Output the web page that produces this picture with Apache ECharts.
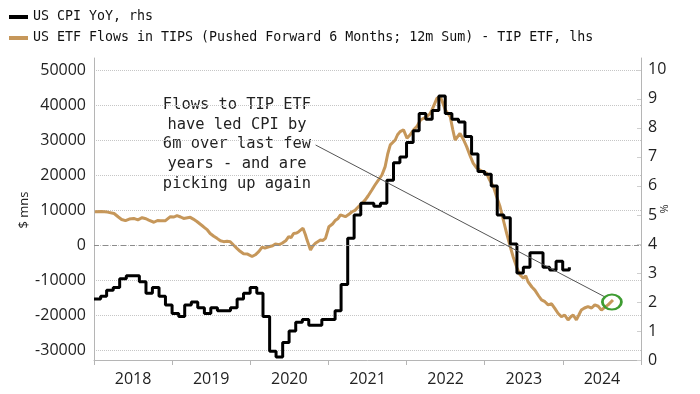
<!DOCTYPE html>
<html><head><meta charset="utf-8">
<script src="https://cdn.jsdelivr.net/npm/echarts@6/dist/echarts.min.js"></script>
<style>html,body{margin:0;padding:0;background:#fff}#c{width:700px;height:394px}</style>
</head><body><div id="c"></div>
<script>
// ---- data ----
const years = ['2018','2019','2020','2021','2022','2023','2024'];
const leftTicks = [-30000,-20000,-10000,0,10000,20000,30000,40000,50000];
const rightTicks = [0,1,2,3,4,5,6,7,8,9,10];

const cpiName = 'US CPI YoY, rhs';
const goldName = 'US ETF Flows in TIPS (Pushed Forward 6 Months; 12m Sum) - TIP ETF, lhs';

// monthly US CPI YoY (%), Jan 2018 .. Feb 2024
const cpiStartYear = 2018;
const cpiValues = [
  2.1,2.2,2.4,2.5,2.8,2.9,2.9,2.7,2.3,2.5,2.2,1.9,
  1.6,1.5,1.9,2.0,1.8,1.6,1.8,1.7,1.7,1.8,2.1,2.3,
  2.5,2.3,1.5,0.3,0.1,0.6,1.0,1.3,1.4,1.2,1.2,1.4,
  1.4,1.7,2.6,4.2,5.0,5.4,5.4,5.3,5.4,6.2,6.8,7.0,
  7.5,7.9,8.5,8.3,8.6,9.1,8.5,8.3,8.2,7.7,7.1,6.5,
  6.4,6.0,5.0,4.9,4.0,3.0,3.2,3.7,3.7,3.2,3.1,3.4,
  3.1,3.2
];

// TIP ETF flows, $ mns (12m sum, pushed forward 6 months)
const goldDates = [
 '2018-01-05','2018-02-05','2018-03-05','2018-04-05','2018-04-25','2018-05-10','2018-05-28','2018-06-15','2018-07-06','2018-07-25',
 '2018-08-14','2018-09-01','2018-09-14','2018-10-08','2018-10-25','2018-11-07','2018-12-01','2018-12-24','2019-01-10','2019-01-24',
 '2019-02-10','2019-02-24','2019-03-27','2019-04-10','2019-04-27','2019-05-28','2019-06-15','2019-06-28','2019-07-15','2019-07-30',
 '2019-08-15','2019-08-30','2019-09-15','2019-09-30','2019-10-15','2019-10-31','2019-11-15','2019-12-01','2019-12-20','2020-01-10',
 '2020-01-25','2020-02-10','2020-02-26','2020-03-10','2020-03-28','2020-04-15','2020-04-28','2020-05-15','2020-05-29','2020-06-15',
 '2020-06-29','2020-07-10','2020-07-22','2020-08-05','2020-08-15','2020-09-04','2020-09-15','2020-09-23','2020-10-09','2020-10-20',
 '2020-11-01','2020-11-24','2020-12-05','2020-12-18','2021-01-03','2021-01-20','2021-02-03','2021-02-15','2021-02-26','2021-03-21',
 '2021-04-05','2021-04-21','2021-05-05','2021-05-22','2021-06-05','2021-06-22','2021-07-05','2021-07-23','2021-08-05','2021-08-23',
 '2021-09-08','2021-09-23','2021-10-05','2021-10-17','2021-11-09','2021-11-20','2021-12-02','2021-12-18','2022-01-03','2022-01-18',
 '2022-02-03','2022-02-20','2022-03-07','2022-04-06','2022-04-20','2022-04-30','2022-05-23','2022-06-08','2022-06-20','2022-07-01',
 '2022-07-24','2022-08-05','2022-08-16','2022-09-08','2022-09-25','2022-10-09','2022-10-25','2022-11-09','2022-11-25','2022-12-10',
 '2022-12-25','2023-01-10','2023-01-25','2023-02-11','2023-02-25','2023-03-14','2023-03-30','2023-04-14','2023-05-01','2023-05-15',
 '2023-06-01','2023-06-15','2023-07-01','2023-07-12','2023-07-23','2023-08-10','2023-08-24','2023-09-10','2023-09-24','2023-10-10',
 '2023-10-25','2023-11-10','2023-11-25','2023-12-10','2023-12-26','2024-01-10','2024-01-26','2024-02-08','2024-02-19','2024-03-05',
 '2024-03-18','2024-03-28','2024-04-12','2024-04-28','2024-05-15','2024-05-30','2024-06-15','2024-06-30','2024-07-15','2024-07-31',
 '2024-08-23'
];
const goldValues = [
 9500,9600,9400,9000,8000,7300,6950,7400,7600,7200,
 7800,7500,7100,6500,7000,6900,6950,8100,8000,8400,
 8000,7600,7900,7400,6700,5200,4300,3300,2500,1900,
 1200,950,1100,950,0,-950,-1800,-2500,-2600,-3300,
 -2800,-1900,-600,-900,-500,-200,300,100,500,1200,
 2400,2100,3300,3400,3800,4800,3000,1400,-1400,-300,
 500,1400,1300,1900,5200,6000,7100,7600,8600,8100,
 8700,9500,9900,11000,11800,12900,14000,15700,17000,18600,
 20000,22400,26000,28600,30000,31500,32400,32900,30500,31500,
 32900,34000,35700,36700,37500,38600,41900,42400,40500,38600,
 36700,33000,30000,31900,30000,28100,25500,23300,22000,21400,
 20900,20500,18500,16700,14000,11000,7000,3300,-500,-3500,
 -6500,-8500,-9500,-8800,-10500,-12000,-12900,-14500,-15700,-16200,
 -17100,-16800,-18100,-19500,-20500,-20000,-21400,-20500,-20000,-21400,
 -19800,-18600,-18000,-17600,-18000,-17100,-17500,-18600,-17800,-17100,
 -15700
];

// annotation
const noteLines = ['Flows to TIP ETF','have led CPI by','6m over last few','years - and are','picking up again'];
const arrowFrom = ['2020-11-02', 28571];
const arrowTo = ['2024-07-17', -14857];
const circleAt = ['2024-08-18', -16286];

// ---- build ----
const pad = n => (n < 10 ? '0' : '') + n;
const cpiData = cpiValues.map((v, i) => [
  (cpiStartYear + Math.floor(i / 12)) + '-' + pad(i % 12 + 1) + '-01', v]);
const goldData = goldDates.map((d, i) => [d, goldValues[i]]);

const xMin = '2018-01-01', xMax = '2025-01-01';
const labelFont = 'Open Sans';
const monoFont = 'DejaVu Sans Mono';
const axisGray = '#b5b5b5';

const chart = echarts.init(document.getElementById('c'), null, {renderer: 'canvas'});
chart.setOption({
  animation: false,
  backgroundColor: '#fff',
  grid: [
    {left: 94, right: 59, top: 70, bottom: 44},
    {left: 94, right: 59, top: 58, bottom: 34}
  ],
  legend: {
    data: [cpiName, goldName],
    orient: 'vertical', left: 9, top: 10, padding: 0,
    icon: 'rect', itemWidth: 19, itemHeight: 4, itemGap: 7,
    textStyle: {fontFamily: monoFont, fontSize: 13.3, color: '#111', lineHeight: 14}
  },
  xAxis: [
    {type: 'time', gridIndex: 0, min: xMin, max: xMax, show: false},
    {type: 'time', gridIndex: 1, min: xMin, max: xMax, show: false},
    {type: 'category', gridIndex: 1, data: years, boundaryGap: true, position: 'bottom',
     axisLine: {lineStyle: {color: axisGray}},
     axisTick: {show: true, length: 5, lineStyle: {color: axisGray}},
     axisLabel: {fontFamily: labelFont, fontSize: 16, color: '#222', margin: 11},
     splitLine: {show: false}}
  ],
  yAxis: [
    {type: 'value', gridIndex: 0, position: 'left',
     min: leftTicks[0], max: leftTicks[leftTicks.length - 1], interval: 10000,
     axisLine: {show: false}, axisTick: {show: false},
     axisLabel: {fontFamily: labelFont, fontSize: 16, color: '#222', margin: 8, formatter: v => String(v)},
     splitLine: {show: true, lineStyle: {color: '#c6c6c6', type: 'dotted', width: 1}},
     name: '$ mns', nameLocation: 'middle', nameGap: 63, nameMoveOverlap: false,
     nameTextStyle: {fontFamily: labelFont, fontSize: 13, color: '#222'}},
    {type: 'value', gridIndex: 1, position: 'right',
     min: rightTicks[0], max: 10.41, interval: 1,
     axisLine: {show: true, lineStyle: {color: axisGray}},
     axisTick: {show: true, inside: true, length: 4, lineStyle: {color: '#cfcfcf'}},
     axisLabel: {fontFamily: labelFont, fontSize: 16, color: '#222', margin: 7, showMaxLabel: false,
                 formatter: v => (rightTicks.indexOf(v) >= 0 ? String(v) : '')},
     splitLine: {show: false},
     name: '%', nameLocation: 'middle', nameGap: 18, nameMoveOverlap: false,
     nameTextStyle: {fontFamily: labelFont, fontSize: 11, color: '#222'}},
    {type: 'value', gridIndex: 1, position: 'left', min: 0, max: 1,
     axisLine: {show: true, lineStyle: {color: axisGray}},
     axisTick: {show: false}, axisLabel: {show: false}, splitLine: {show: false}}
  ],
  series: [
    {type: 'line', xAxisIndex: 0, yAxisIndex: 0, data: [], z: 1, silent: true,
     markLine: {silent: true, symbol: 'none', label: {show: false},
       lineStyle: {color: '#8c8c8c', type: [5, 4], width: 1},
       data: [{yAxis: 0}]}},
    {name: goldName, type: 'line', xAxisIndex: 0, yAxisIndex: 0, data: goldData,
     symbol: 'none', showSymbol: false, z: 3,
     lineStyle: {color: '#c6975a', width: 3}, itemStyle: {color: '#c6975a'}},
    {name: cpiName, type: 'line', xAxisIndex: 1, yAxisIndex: 1, data: cpiData, step: 'end',
     symbol: 'none', showSymbol: false, z: 4,
     lineStyle: {color: '#000', width: 3}, itemStyle: {color: '#000'}},
    {type: 'line', xAxisIndex: 0, yAxisIndex: 0, data: [], z: 6, silent: true,
     markLine: {silent: true, symbol: 'none', label: {show: false},
       lineStyle: {color: '#555', type: 'solid', width: 1},
       data: [[{coord: arrowFrom}, {coord: arrowTo}]]},
     markPoint: {silent: true, symbol: 'circle', symbolSize: [19, 15], label: {show: false},
       itemStyle: {color: 'rgba(0,0,0,0)', borderColor: '#3e9c32', borderWidth: 2.5},
       data: [{coord: circleAt}]}}
  ],
  graphic: [
    {type: 'text', x: 237, y: 95, silent: true,
     style: {text: noteLines.join('\n'), fontFamily: monoFont, fontSize: 15.4,
             align: 'center', verticalAlign: 'top', lineHeight: 19.75, fill: '#222'}}
  ]
});
</script>
</body></html>
